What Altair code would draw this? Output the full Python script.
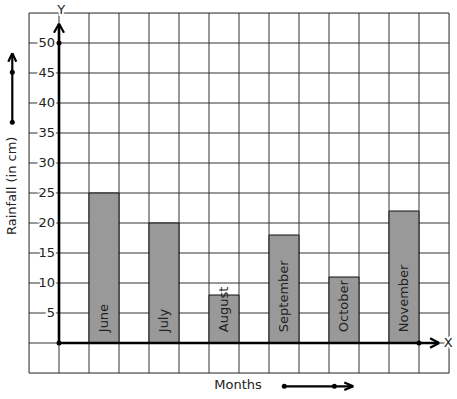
import altair as alt
import pandas as pd

months = ["June", "July", "August", "September", "October", "November"]
rainfall = [25, 20, 8, 18, 11, 22]
y_ticks = [5, 10, 15, 20, 25, 30, 35, 40, 45, 50]
grid_x = list(range(-1, 14))
grid_y = list(range(-5, 56, 5))

FONT = "DejaVu Sans"
TXT = "#222222"

bars = pd.DataFrame({
    "month": months,
    "rain": rainfall,
    "x0": [1 + 2 * i for i in range(len(months))],
    "x1": [2 + 2 * i for i in range(len(months))],
})
bars["xc"] = (bars["x0"] + bars["x1"]) / 2
bars["zero"] = 0
bars["ty"] = 1.8

xs = alt.Scale(domain=[-1, 13], nice=False, zero=False)
ys = alt.Scale(domain=[-5, 55], nice=False, zero=False)
X = lambda f: alt.X(f, type="quantitative", scale=xs, axis=None)
Y = lambda f: alt.Y(f, type="quantitative", scale=ys, axis=None)

# grid
gx = pd.DataFrame({"x": grid_x, "y": -5, "y2": 55})
gy = pd.DataFrame({"y": grid_y, "x": -1, "x2": 13})
grid_v = alt.Chart(gx).mark_rule(color="#333333", strokeWidth=1).encode(
    x=X("x"), y=Y("y"), y2="y2")
grid_h = alt.Chart(gy).mark_rule(color="#333333", strokeWidth=1).encode(
    y=Y("y"), x=X("x"), x2="x2")

bar_layer = alt.Chart(bars).mark_rect(color="#999999", stroke="#111111", strokeWidth=1).encode(
    x=X("x0"), x2="x1", y=Y("rain"), y2="zero")

bar_text = alt.Chart(bars).mark_text(angle=270, align="left", baseline="middle",
                                     font=FONT, fontSize=13, color=TXT).encode(
    x=X("xc"), y=Y("ty"), text="month:N")

# main axes
axes_df = pd.DataFrame({
    "x": [0, 0], "x2": [0, 12.67], "y": [0, 0], "y2": [53.2, 0]})
axes_layer = alt.Chart(axes_df).mark_rule(color="black", strokeWidth=2.6).encode(
    x=X("x"), x2="x2", y=Y("y"), y2="y2")

# arrowheads and decorative arrows
seg = pd.DataFrame({
    "x": [0, 0, 12.67, 12.67, -1.557, -1.557, -1.557, 7.51, 9.81, 9.81],
    "y": [53.2, 53.2, 0, 0, 36.78, 48.28, 48.28, -7.22, -7.22, -7.22],
    "x2": [-0.167, 0.167, 12.37, 12.37, -1.557, -1.69, -1.424, 9.81, 9.51, 9.51],
    "y2": [51.7, 51.7, 0.8, -0.8, 48.28, 46.88, 46.88, -7.22, -6.6, -7.85],
})
seg_layer = alt.Chart(seg).mark_rule(color="black", strokeWidth=2.2).encode(
    x=X("x"), x2="x2", y=Y("y"), y2="y2")

dots = pd.DataFrame({
    "x": [0, 0, 12, -1.557, -1.557, 7.51, 9.18],
    "y": [0, 50, 0, 45.12, 36.78, -7.22, -7.22]})
dot_layer = alt.Chart(dots).mark_point(filled=True, color="black", size=25, opacity=1).encode(
    x=X("x"), y=Y("y"))

# tick labels with white halo
ticks = pd.DataFrame({"v": y_ticks, "lab": [str(v) for v in y_ticks]})
ticks["x"] = -0.13
tick_halo = alt.Chart(ticks).mark_text(align="right", baseline="middle", font=FONT, fontSize=13,
                                        stroke="white", strokeWidth=4, color="white").encode(
    x=X("x"), y=Y("v"), text="lab:N")
tick_txt = alt.Chart(ticks).mark_text(align="right", baseline="middle", font=FONT, fontSize=13,
                                       color=TXT).encode(
    x=X("x"), y=Y("v"), text="lab:N")

xy = pd.DataFrame({"x": [0.07, 12.97], "y": [55.5, 0.05], "t": ["Y", "X"]})
xy_halo = alt.Chart(xy).mark_text(align="center", baseline="middle", font=FONT, fontSize=13,
                                  stroke="white", strokeWidth=4, color="white").encode(
    x=X("x"), y=Y("y"), text="t:N")
xy_txt = alt.Chart(xy).mark_text(align="center", baseline="middle", font=FONT, fontSize=13,
                                 color=TXT).encode(
    x=X("x"), y=Y("y"), text="t:N")

months_lbl = alt.Chart(pd.DataFrame({"t": ["Months"], "x": [5.97], "y": [-7.0]})).mark_text(
    align="center", baseline="middle", font=FONT, fontSize=13, color=TXT).encode(
    x=X("x"), y=Y("y"), text="t:N")

rain_lbl = alt.Chart(pd.DataFrame({"t": ["Rainfall (in cm)"], "x": [-1.57], "y": [26.2]})).mark_text(
    align="center", baseline="middle", angle=270, font=FONT, fontSize=13, color=TXT).encode(
    x=X("x"), y=Y("y"), text="t:N")

chart = alt.layer(
    grid_v, grid_h, bar_layer, bar_text, axes_layer, seg_layer, dot_layer,
    tick_halo, tick_txt, xy_halo, xy_txt, months_lbl, rain_lbl
).properties(
    width=420, height=360,
    autosize=alt.AutoSizeParams(type="none"),
    padding={"left": 29, "top": 13, "right": 8, "bottom": 26},
).configure_view(stroke=None).configure(background="white")

chart.save("out.html", embed_options={"renderer": "svg", "actions": False})
